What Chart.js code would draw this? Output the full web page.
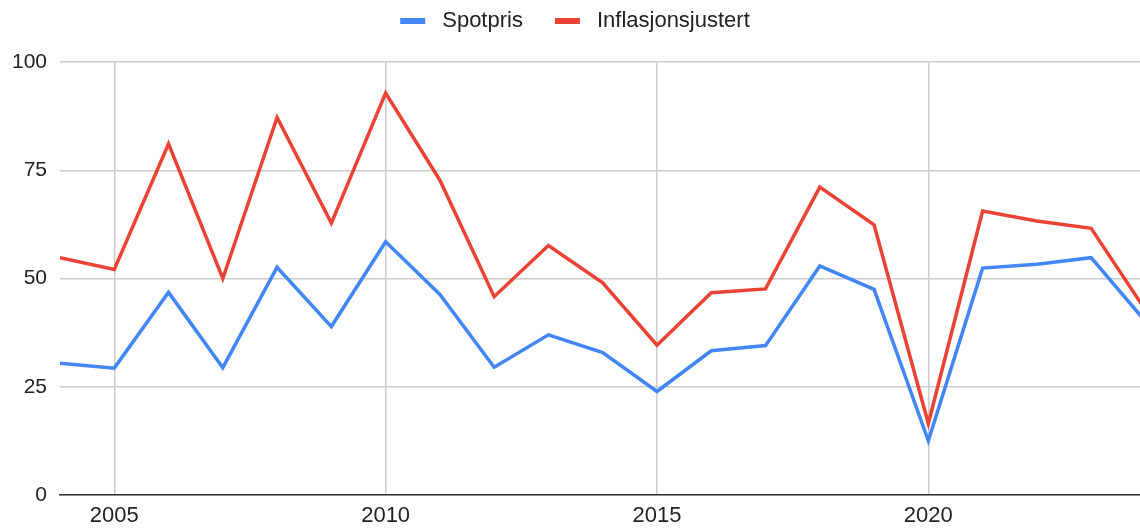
<!DOCTYPE html>
<html>
<head>
<meta charset="utf-8">
<script src="https://cdn.jsdelivr.net/npm/chart.js@4/dist/chart.umd.min.js"></script>
<style>
  html, body { margin: 0; padding: 0; background: #fff; overflow: hidden; }
  #wrap { width: 1140px; height: 530px; }
</style>
</head>
<body>
<div id="wrap"><canvas id="myChart-grafico"></canvas></div>
<script>
// Dados
const anos = [2004, 2005, 2006, 2007, 2008, 2009, 2010, 2011, 2012, 2013, 2014,
              2015, 2016, 2017, 2018, 2019, 2020, 2021, 2022, 2023, 2024];
const spotpris = [30.4, 29.3, 46.8, 29.4, 52.6, 38.9, 58.5, 46.3, 29.5, 37.0, 32.9,
                  23.9, 33.3, 34.5, 52.9, 47.5, 12.5, 52.4, 53.3, 54.8, 40.1];
const inflasjonsjustert = [54.8, 52.1, 81.1, 50.0, 87.2, 62.8, 92.8, 72.7, 45.8, 57.6, 49.0,
                           34.6, 46.7, 47.6, 71.1, 62.4, 16.5, 65.6, 63.3, 61.6, 42.7];
const xTicks = [2005, 2010, 2015, 2020];
const yTicks = [0, 25, 50, 75, 100];

const fonte = 'Liberation Sans, Arial, sans-serif';

// Legenda desenhada à mão (marcador + texto, centralizada no topo)
const legendaTopo = {
  id: 'legendaTopo',
  afterDraw(chart) {
    const c = chart.ctx;
    const itens = chart.data.datasets.map(ds => ({ texto: ds.label, cor: ds.borderColor }));
    c.save();
    c.font = '22px ' + fonte;
    c.textBaseline = 'middle';
    const marcador = 25, gapTexto = 17, gapItem = 32;
    let total = 0;
    itens.forEach((it, i) => {
      it.w = c.measureText(it.texto).width;
      total += marcador + gapTexto + it.w + (i > 0 ? gapItem : 0);
    });
    let x = 575 - total / 2;
    const y = 21;
    itens.forEach((it, i) => {
      if (i > 0) x += gapItem;
      c.fillStyle = it.cor;
      c.fillRect(x, y - 3, marcador, 6);
      x += marcador + gapTexto;
      c.fillStyle = '#222';
      c.fillText(it.texto, x, y);
      x += it.w;
    });
    c.restore();
  }
};

const ctx = document.getElementById('myChart-grafico').getContext('2d');

const data = {
  datasets: [
    {
      label: 'Spotpris',
      data: anos.map((a, i) => ({ x: a, y: spotpris[i] })),
      borderColor: '#4285F4',
      backgroundColor: '#4285F4',
      borderWidth: 3.5,
      pointRadius: 0,
      tension: 0
    },
    {
      label: 'Inflasjonsjustert',
      data: anos.map((a, i) => ({ x: a, y: inflasjonsjustert[i] })),
      borderColor: '#EA4335',
      backgroundColor: '#EA4335',
      borderWidth: 3.5,
      pointRadius: 0,
      tension: 0
    }
  ]
};

const options = {
  responsive: true,
  maintainAspectRatio: false,
  animation: false,
  layout: { padding: { top: 62, left: 0, right: 0, bottom: 0 } },
  plugins: {
    legend: { display: false },
    tooltip: { enabled: false }
  },
  scales: {
    x: {
      type: 'linear',
      min: 2004,
      max: 2023.9,
      afterBuildTicks: (scale) => { scale.ticks = xTicks.map(v => ({ value: v })); },
      afterFit: (scale) => { scale.height = 35; },
      grid: { color: '#cccccc', lineWidth: 1.5, drawTicks: false },
      border: { color: '#333333', width: 1.5 },
      ticks: {
        padding: 8,
        color: '#222',
        maxRotation: 0,
        font: { size: 22, family: fonte },
        callback: (v) => String(v)
      }
    },
    y: {
      min: 0,
      max: 100,
      afterBuildTicks: (scale) => { scale.ticks = yTicks.map(v => ({ value: v })); },
      afterFit: (scale) => { scale.width = 60; },
      grid: { color: '#cccccc', lineWidth: 1.5, drawTicks: false },
      border: { display: false },
      ticks: {
        padding: 13,
        color: '#222',
        font: { size: 21, family: fonte }
      }
    }
  }
};

chart = new Chart(ctx, { type: 'line', data: data, options: options, plugins: [legendaTopo] });
</script>
</body>
</html>
